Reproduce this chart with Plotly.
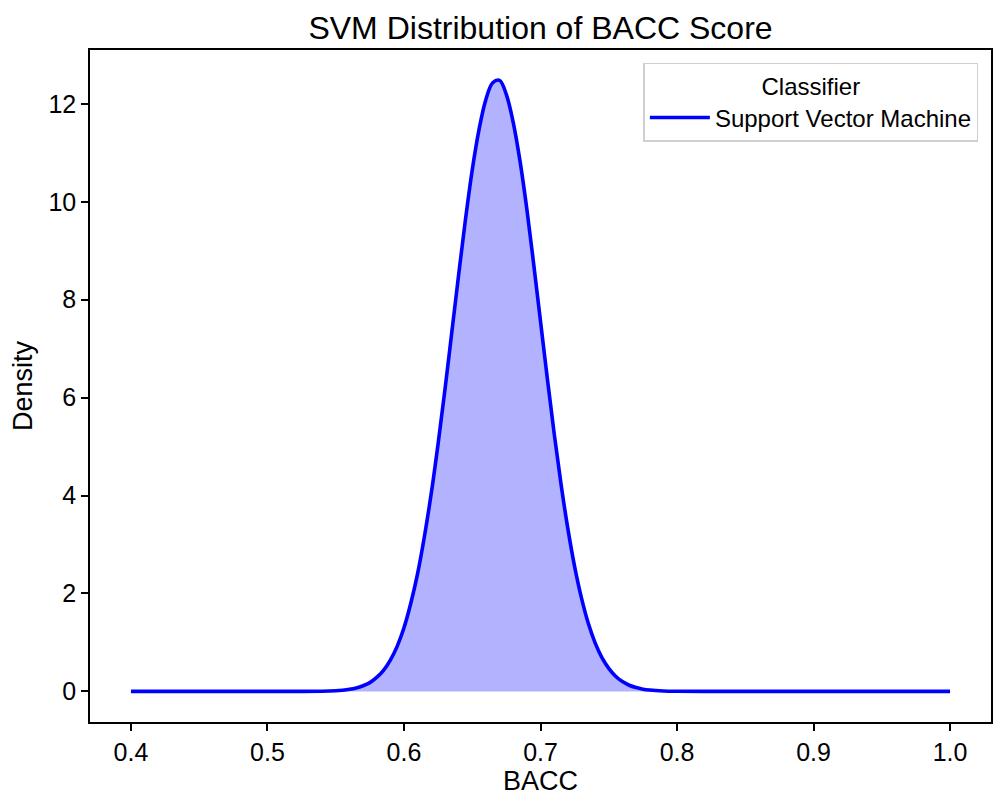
import plotly.graph_objects as go

# Values
bacc = [0.40, 0.45, 0.50, 0.52, 0.54, 0.55, 0.555, 0.56, 0.565, 0.57, 0.575, 0.58,
        0.585, 0.59, 0.595, 0.60, 0.605, 0.61, 0.615, 0.62, 0.625, 0.63, 0.635,
        0.64, 0.645, 0.65, 0.655, 0.66, 0.665, 0.67, 0.675, 0.68, 0.685, 0.69,
        0.695, 0.70, 0.705, 0.71, 0.715, 0.72, 0.725, 0.73, 0.735, 0.74, 0.745,
        0.75, 0.755, 0.76, 0.765, 0.77, 0.775, 0.78, 0.79, 0.80, 0.82, 0.85,
        0.90, 0.95, 1.00]
density = [0.0, 0.0, 0.0, 0.001, 0.004, 0.014, 0.025, 0.042, 0.070, 0.115, 0.18, 0.285,
           0.43, 0.64, 0.92, 1.30, 1.80, 2.41, 3.17, 4.05, 5.06, 6.16, 7.33,
           8.50, 9.63, 10.65, 11.48, 12.09, 12.43, 12.48, 12.19, 11.62, 10.83, 9.85,
           8.73, 7.56, 6.39, 5.27, 4.24, 3.33, 2.55, 1.91, 1.39, 0.99, 0.69,
           0.47, 0.31, 0.20, 0.126, 0.078, 0.046, 0.027, 0.009, 0.003, 0.0, 0.0,
           0.0, 0.0, 0.0]

x_ticks = [0.4, 0.5, 0.6, 0.7, 0.8, 0.9, 1.0]
x_tick_labels = ["0.4", "0.5", "0.6", "0.7", "0.8", "0.9", "1.0"]
y_ticks = [0, 2, 4, 6, 8, 10, 12]

series_name = "Support Vector Machine"
legend_title = "Classifier"
chart_title = "SVM Distribution of BACC Score"

FONT = "Liberation Sans, Arial, sans-serif"

fig = go.Figure()
# shaded area under the curve
fig.add_trace(go.Scatter(
    x=bacc, y=density, mode="lines", showlegend=False, hoverinfo="skip",
    line=dict(color="rgba(0,0,255,0.25)", width=0.8, shape="spline", smoothing=1.0),
    fill="tozeroy", fillcolor="rgba(0,0,255,0.3)",
))
# density line
fig.add_trace(go.Scatter(
    x=bacc, y=density, mode="lines", name=series_name,
    line=dict(color="#0000ff", width=3.6, shape="spline", smoothing=1.0),
))

axis_common = dict(
    showline=True, linecolor="black", linewidth=1.5, mirror=True,
    ticks="outside", ticklen=7, tickwidth=1.5, tickcolor="black",
    showgrid=False, zeroline=False,
    tickfont=dict(family=FONT, size=25, color="black"),
)

fig.update_layout(
    width=1004, height=803,
    paper_bgcolor="white", plot_bgcolor="white",
    margin=dict(l=80, r=21, t=42, b=89),
    font=dict(family=FONT, color="black"),
    title=dict(text=chart_title, x=0.5, xref="paper", xanchor="center",
               y=1 - 20 / 803, yref="container", yanchor="middle",
               font=dict(family=FONT, size=32, color="black")),
    xaxis=dict(range=[0.37, 1.03], tickvals=x_ticks, ticktext=x_tick_labels,
               title=dict(text="BACC", font=dict(family=FONT, size=27), standoff=3),
               **axis_common),
    yaxis=dict(range=[-0.625, 13.1], tickvals=y_ticks,
               title=dict(text="Density", font=dict(family=FONT, size=27), standoff=10),
               **axis_common),
    showlegend=True,
    legend=dict(
        title=dict(text=legend_title, side="top center",
                   font=dict(family=FONT, size=24, color="black")),
        font=dict(family=FONT, size=24, color="black"),
        x=0.986, xanchor="right", y=0.981, yanchor="top",
        bgcolor="white", bordercolor="#d0d0d0", borderwidth=1.5,
        itemwidth=60,
        tracegroupgap=0,
    ),
)

fig.write_html("out.html")
